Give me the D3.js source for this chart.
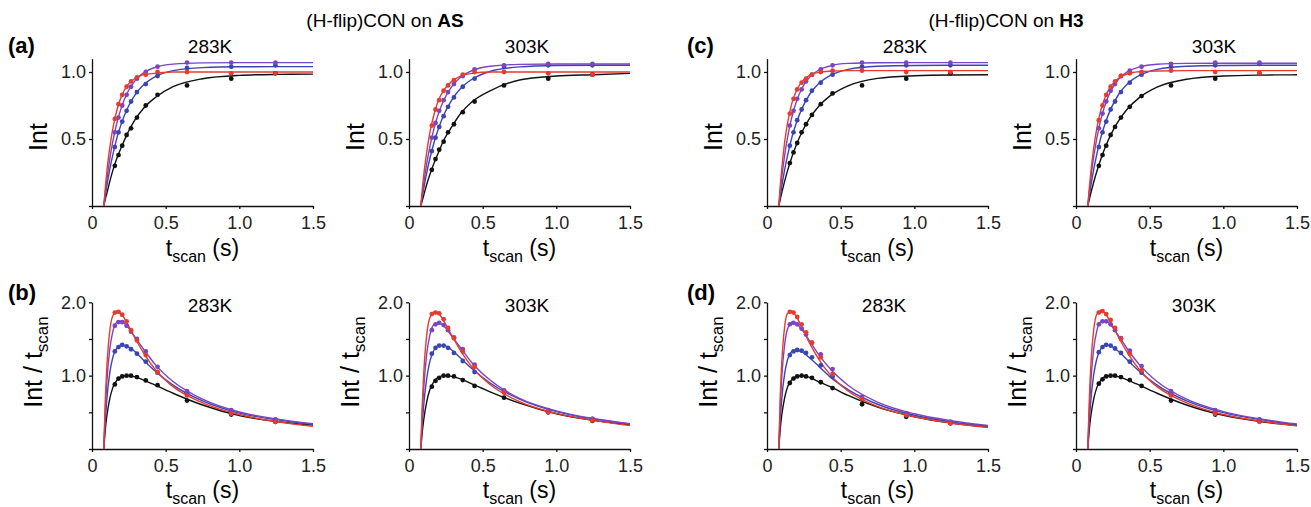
<!DOCTYPE html>
<html>
<head>
<meta charset="utf-8">
<script src="https://cdn.jsdelivr.net/npm/d3@7"></script>
<style>
  body { margin: 0; background: #fff; }
  svg { display: block; font-family: "Liberation Sans", Arial, Helvetica, sans-serif; }
</style>
</head>
<body>
<svg id="chart" width="1311" height="507"></svg>
<script>
// scan times of the measured points and of the sampled fit curves (s)
const tPts = [0.155, 0.18, 0.205, 0.235, 0.265, 0.305, 0.365, 0.445, 0.645, 0.945, 1.245];
const tFit = [0.08, 0.09, 0.10, 0.12, 0.14, 0.17, 0.20, 0.24, 0.29, 0.35, 0.43, 0.55, 0.75, 1.0, 1.25, 1.5];

// series order in every table: black, blue, purple, red
const seriesColors = ["#111111", "#3a45b3", "#7a45c2", "#e63b2e"];

const xTicks = [0, 0.5, 1.0, 1.5];
const xTickLabels = ["0", "0.5", "1.0", "1.5"];
const intTicks = [0, 0.5, 1.0];
const intTickLabels = ["", "0.5", "1.0"];
const ratioTicks = [0, 0.5, 1.0, 1.5, 2.0];
const ratioTickLabels = ["", "", "1.0", "", "2.0"];

const groupTitles = ["AS", "H3"];
const panelLetters = ["(a)", "(b)", "(c)", "(d)"];
const temps = ["283K", "303K"];

// (H-flip)CON on AS, 283K
const as283IntPts = [
  [0.30, 0.38, 0.45, 0.53, 0.58, 0.66, 0.75, 0.83, 0.90, 0.95, 0.99],
  [0.44, 0.55, 0.63, 0.71, 0.78, 0.85, 0.91, 0.97, 1.03, 1.04, 1.05],
  [0.55, 0.66, 0.75, 0.83, 0.89, 0.95, 1.00, 1.04, 1.07, 1.07, 1.07],
  [0.65, 0.76, 0.83, 0.89, 0.93, 0.96, 0.98, 1.00, 1.00, 0.99, 0.99]
];
const as283IntFit = [
  [0, 0.05, 0.09, 0.18, 0.26, 0.36, 0.44, 0.54, 0.64, 0.73, 0.81, 0.89, 0.95, 0.975, 0.982, 0.984],
  [0, 0.075, 0.145, 0.27, 0.376, 0.512, 0.617, 0.727, 0.826, 0.904, 0.965, 1.01, 1.033, 1.039, 1.04, 1.04],
  [0, 0.10, 0.19, 0.346, 0.474, 0.625, 0.738, 0.845, 0.932, 0.993, 1.035, 1.059, 1.068, 1.07, 1.07, 1.07],
  [0, 0.13, 0.25, 0.43, 0.57, 0.72, 0.82, 0.90, 0.95, 0.98, 0.99, 1.0, 1.0, 1.0, 1.0, 1.0]
];
const as283RatioPts = [
  [0.88, 0.96, 0.99, 1.0, 1.0, 0.98, 0.935, 0.87, 0.66, 0.47, 0.37],
  [1.33, 1.39, 1.42, 1.40, 1.36, 1.30, 1.19, 1.04, 0.76, 0.51, 0.40],
  [1.68, 1.73, 1.73, 1.68, 1.60, 1.50, 1.33, 1.12, 0.79, 0.53, 0.40],
  [1.86, 1.87, 1.83, 1.74, 1.62, 1.48, 1.28, 1.05, 0.73, 0.48, 0.37]
];
const as283RatioFit = [
  [0, 0.26, 0.44, 0.68, 0.83, 0.94, 0.99, 1.0, 0.985, 0.94, 0.87, 0.76, 0.60, 0.455, 0.375, 0.325],
  [0, 0.38, 0.66, 1.03, 1.24, 1.38, 1.42, 1.40, 1.33, 1.21, 1.06, 0.87, 0.655, 0.49, 0.40, 0.335],
  [0, 0.52, 0.89, 1.35, 1.59, 1.73, 1.74, 1.67, 1.53, 1.36, 1.15, 0.92, 0.68, 0.505, 0.41, 0.345],
  [0, 0.65, 1.09, 1.60, 1.81, 1.88, 1.84, 1.71, 1.52, 1.31, 1.08, 0.85, 0.63, 0.47, 0.375, 0.31]
];

// (H-flip)CON on AS, 303K
const as303IntPts = [
  [0.27, 0.35, 0.42, 0.48, 0.55, 0.61, 0.70, 0.78, 0.90, 0.95, 0.98],
  [0.41, 0.51, 0.59, 0.67, 0.74, 0.81, 0.89, 0.95, 1.04, 1.05, 1.05],
  [0.51, 0.62, 0.71, 0.79, 0.85, 0.91, 0.97, 1.02, 1.05, 1.06, 1.06],
  [0.60, 0.72, 0.79, 0.86, 0.90, 0.94, 0.98, 1.00, 1.00, 0.99, 0.98]
];
const as303IntFit = [
  [0, 0.04, 0.08, 0.16, 0.23, 0.32, 0.40, 0.50, 0.59, 0.69, 0.78, 0.86, 0.94, 0.97, 0.98, 0.99],
  [0, 0.068, 0.131, 0.246, 0.347, 0.474, 0.579, 0.689, 0.791, 0.877, 0.948, 1.004, 1.038, 1.048, 1.05, 1.05],
  [0, 0.089, 0.171, 0.314, 0.434, 0.579, 0.69, 0.798, 0.891, 0.961, 1.011, 1.043, 1.057, 1.06, 1.06, 1.06],
  [0, 0.12, 0.23, 0.40, 0.54, 0.685, 0.79, 0.87, 0.93, 0.97, 0.99, 1.0, 1.0, 1.0, 1.0, 1.0]
];
const as303RatioPts = [
  [0.85, 0.93, 0.97, 1.0, 1.0, 0.99, 0.94, 0.86, 0.70, 0.50, 0.385],
  [1.30, 1.38, 1.41, 1.41, 1.38, 1.31, 1.20, 1.05, 0.78, 0.52, 0.41],
  [1.62, 1.70, 1.72, 1.69, 1.62, 1.52, 1.36, 1.15, 0.80, 0.53, 0.41],
  [1.84, 1.86, 1.85, 1.77, 1.65, 1.51, 1.33, 1.12, 0.77, 0.50, 0.39]
];
const as303RatioFit = [
  [0, 0.23, 0.40, 0.64, 0.80, 0.92, 0.98, 1.0, 0.99, 0.955, 0.885, 0.78, 0.625, 0.48, 0.39, 0.33],
  [0, 0.34, 0.60, 0.96, 1.18, 1.35, 1.41, 1.41, 1.35, 1.24, 1.09, 0.90, 0.68, 0.51, 0.41, 0.34],
  [0, 0.48, 0.83, 1.29, 1.54, 1.70, 1.72, 1.67, 1.54, 1.38, 1.17, 0.94, 0.69, 0.52, 0.415, 0.345],
  [0, 0.60, 1.03, 1.55, 1.78, 1.87, 1.85, 1.73, 1.55, 1.34, 1.11, 0.88, 0.645, 0.485, 0.39, 0.32]
];

// (H-flip)CON on H3, 283K
const h3283IntPts = [
  [0.32, 0.40, 0.47, 0.55, 0.61, 0.68, 0.76, 0.84, 0.90, 0.95, 0.99],
  [0.45, 0.55, 0.64, 0.72, 0.79, 0.86, 0.92, 0.98, 1.04, 1.05, 1.05],
  [0.60, 0.71, 0.80, 0.87, 0.93, 0.98, 1.02, 1.05, 1.07, 1.07, 1.07],
  [0.69, 0.80, 0.87, 0.92, 0.95, 0.98, 1.00, 1.01, 1.01, 1.00, 1.00]
];
const h3283IntFit = [
  [0, 0.05, 0.098, 0.186, 0.266, 0.369, 0.459, 0.558, 0.656, 0.743, 0.824, 0.897, 0.952, 0.972, 0.978, 0.979],
  [0, 0.076, 0.146, 0.272, 0.38, 0.517, 0.623, 0.734, 0.834, 0.912, 0.974, 1.02, 1.043, 1.049, 1.05, 1.05],
  [0, 0.11, 0.21, 0.379, 0.515, 0.67, 0.781, 0.884, 0.963, 1.014, 1.046, 1.064, 1.069, 1.07, 1.07, 1.07],
  [0, 0.15, 0.277, 0.478, 0.623, 0.771, 0.862, 0.932, 0.975, 0.997, 1.006, 1.01, 1.01, 1.01, 1.01, 1.01]
];
const h3283RatioPts = [
  [0.90, 0.96, 0.99, 1.0, 0.99, 0.97, 0.91, 0.83, 0.61, 0.44, 0.35],
  [1.28, 1.33, 1.35, 1.34, 1.31, 1.25, 1.14, 0.99, 0.69, 0.48, 0.37],
  [1.70, 1.72, 1.70, 1.64, 1.56, 1.45, 1.29, 1.09, 0.71, 0.49, 0.37],
  [1.87, 1.86, 1.80, 1.70, 1.59, 1.45, 1.25, 1.02, 0.68, 0.46, 0.35]
];
const h3283RatioFit = [
  [0, 0.27, 0.46, 0.70, 0.85, 0.95, 0.99, 1.0, 0.975, 0.92, 0.85, 0.73, 0.57, 0.44, 0.355, 0.30],
  [0, 0.40, 0.68, 1.03, 1.22, 1.33, 1.35, 1.32, 1.24, 1.13, 0.98, 0.81, 0.61, 0.46, 0.37, 0.31],
  [0, 0.58, 0.97, 1.43, 1.64, 1.73, 1.71, 1.62, 1.47, 1.29, 1.09, 0.87, 0.64, 0.48, 0.385, 0.32],
  [0, 0.72, 1.17, 1.67, 1.85, 1.88, 1.80, 1.65, 1.44, 1.23, 1.01, 0.79, 0.58, 0.44, 0.355, 0.295]
];

// (H-flip)CON on H3, 303K
const h3303IntPts = [
  [0.30, 0.38, 0.45, 0.53, 0.59, 0.66, 0.74, 0.82, 0.90, 0.95, 0.99],
  [0.44, 0.55, 0.63, 0.72, 0.78, 0.85, 0.92, 0.98, 1.04, 1.05, 1.06],
  [0.58, 0.69, 0.78, 0.86, 0.91, 0.97, 1.01, 1.04, 1.06, 1.07, 1.07],
  [0.64, 0.75, 0.83, 0.89, 0.93, 0.97, 0.99, 1.00, 1.01, 1.00, 0.99]
];
const h3303IntFit = [
  [0, 0.048, 0.093, 0.177, 0.254, 0.355, 0.442, 0.54, 0.637, 0.726, 0.809, 0.887, 0.946, 0.97, 0.977, 0.979],
  [0, 0.076, 0.146, 0.272, 0.38, 0.517, 0.623, 0.734, 0.834, 0.912, 0.974, 1.02, 1.043, 1.049, 1.05, 1.05],
  [0, 0.107, 0.202, 0.366, 0.498, 0.652, 0.764, 0.867, 0.948, 1.003, 1.038, 1.058, 1.064, 1.065, 1.065, 1.065],
  [0, 0.131, 0.245, 0.431, 0.571, 0.72, 0.819, 0.9, 0.955, 0.987, 1.002, 1.008, 1.01, 1.01, 1.01, 1.01]
];
const h3303RatioPts = [
  [0.89, 0.95, 0.99, 1.0, 1.0, 0.98, 0.94, 0.86, 0.66, 0.47, 0.38],
  [1.32, 1.39, 1.42, 1.41, 1.37, 1.31, 1.19, 1.04, 0.76, 0.51, 0.40],
  [1.70, 1.74, 1.74, 1.70, 1.62, 1.51, 1.34, 1.13, 0.79, 0.53, 0.40],
  [1.86, 1.88, 1.84, 1.76, 1.65, 1.50, 1.30, 1.07, 0.73, 0.48, 0.37]
];
const h3303RatioFit = [
  [0, 0.26, 0.44, 0.68, 0.83, 0.94, 0.99, 1.0, 0.985, 0.94, 0.87, 0.76, 0.60, 0.46, 0.375, 0.32],
  [0, 0.37, 0.65, 1.01, 1.22, 1.37, 1.42, 1.40, 1.33, 1.21, 1.06, 0.87, 0.655, 0.495, 0.40, 0.33],
  [0, 0.52, 0.89, 1.36, 1.60, 1.74, 1.75, 1.68, 1.54, 1.36, 1.15, 0.92, 0.68, 0.51, 0.41, 0.34],
  [0, 0.66, 1.11, 1.62, 1.83, 1.89, 1.84, 1.71, 1.52, 1.31, 1.08, 0.85, 0.63, 0.47, 0.38, 0.315]
];

// layout
const colX = [92, 409, 767, 1076];
const plotW = 221;
const rows = [
  {base: 206, top: 58.6, domain: [0, 1.1], ticks: intTicks, labels: intTickLabels,
   xLabelY: 256, yLabelDx: -45, yLabelCy: 137, yLabel: "int", titleY: 53, letterY: 53},
  {base: 449, top: 302.3, domain: [0, 2.0], ticks: ratioTicks, labels: ratioTickLabels,
   xLabelY: 498, yLabelDx: -50, yLabelCy: 362, yLabel: "ratio", titleY: 312, letterY: 300}
];

const panels = [
  {col: 0, row: 0, temp: temps[0], pts: as283IntPts, fit: as283IntFit, titleDx: 118},
  {col: 1, row: 0, temp: temps[1], pts: as303IntPts, fit: as303IntFit, titleDx: 118},
  {col: 2, row: 0, temp: temps[0], pts: h3283IntPts, fit: h3283IntFit, titleDx: 138},
  {col: 3, row: 0, temp: temps[1], pts: h3303IntPts, fit: h3303IntFit, titleDx: 138},
  {col: 0, row: 1, temp: temps[0], pts: as283RatioPts, fit: as283RatioFit, titleDx: 118},
  {col: 1, row: 1, temp: temps[1], pts: as303RatioPts, fit: as303RatioFit, titleDx: 118},
  {col: 2, row: 1, temp: temps[0], pts: h3283RatioPts, fit: h3283RatioFit, titleDx: 117},
  {col: 3, row: 1, temp: temps[1], pts: h3303RatioPts, fit: h3303RatioFit, titleDx: 118}
];

const svg = d3.select("#chart");

// group titles
[{x: 385, i: 0}, {x: 1006, i: 1}].forEach(({x, i}) => {
  const t = svg.append("text")
    .attr("x", x).attr("y", 27)
    .attr("text-anchor", "middle")
    .attr("font-size", 19);
  t.append("tspan").text("(H-flip)CON on ");
  t.append("tspan").attr("font-weight", "bold").text(groupTitles[i]);
});

// panel letters
[{x: 8, row: 0}, {x: 8, row: 1}, {x: 687, row: 0}, {x: 687, row: 1}].forEach((d, i) => {
  svg.append("text")
    .attr("x", d.x).attr("y", rows[d.row].letterY)
    .attr("font-size", 22)
    .attr("font-weight", "bold")
    .text(panelLetters[i]);
});

const drawPanel = (p) => {
  const r = rows[p.row];
  const x0 = colX[p.col];
  const x = d3.scaleLinear().domain([0, 1.5]).range([x0, x0 + plotW]);
  const y = d3.scaleLinear().domain(r.domain).range([r.base, r.top]);

  const g = svg.append("g");

  const xAxis = d3.axisBottom(x)
    .tickValues(xTicks)
    .tickFormat((d, i) => xTickLabels[i])
    .tickSize(3).tickPadding(7).tickSizeOuter(0);
  const yAxis = d3.axisLeft(y)
    .tickValues(r.ticks)
    .tickFormat((d, i) => r.labels[i])
    .tickSize(3).tickPadding(3).tickSizeOuter(0);

  const gx = g.append("g").attr("transform", `translate(0, ${r.base})`).call(xAxis);
  const gy = g.append("g").attr("transform", `translate(${x0}, 0)`).call(yAxis);
  [gx, gy].forEach((a) => {
    a.attr("font-family", null).attr("font-size", 18);
    a.selectAll("path, line").attr("stroke", "#111").attr("stroke-width", 1.3);
    a.selectAll("text").attr("fill", "#222");
  });

  const line = d3.line()
    .x((d) => x(d[0]))
    .y((d) => y(d[1]))
    .curve(d3.curveMonotoneX);

  p.fit.forEach((vals, si) => {
    g.append("path")
      .datum(tFit.map((t, i) => [t, vals[i]]))
      .attr("fill", "none")
      .attr("stroke", seriesColors[si])
      .attr("stroke-width", 1.4)
      .attr("d", line);
  });
  p.pts.forEach((vals, si) => {
    g.selectAll(null)
      .data(tPts.map((t, i) => [t, vals[i]]))
      .enter()
      .append("circle")
      .attr("cx", (d) => x(d[0]))
      .attr("cy", (d) => y(d[1]))
      .attr("r", 2.4)
      .attr("fill", seriesColors[si]);
  });

  // temperature title
  g.append("text")
    .attr("x", x0 + p.titleDx).attr("y", r.titleY)
    .attr("text-anchor", "middle")
    .attr("font-size", 19)
    .text(p.temp);

  // x label
  const xl = g.append("text")
    .attr("x", x0 + plotW / 2).attr("y", r.xLabelY)
    .attr("text-anchor", "middle")
    .attr("font-size", 23);
  xl.append("tspan").text("t");
  xl.append("tspan").attr("font-size", 16).attr("dy", 6).text("scan");
  xl.append("tspan").attr("dy", -6).text(" (s)");

  // y label
  const yl = g.append("text")
    .attr("transform", `translate(${x0 + r.yLabelDx}, ${r.yLabelCy}) rotate(-90)`)
    .attr("text-anchor", "middle")
    .attr("font-size", 25);
  if (r.yLabel === "int") {
    yl.text("Int");
  } else {
    yl.append("tspan").text("Int / t");
    yl.append("tspan").attr("font-size", 17).attr("dy", 6).text("scan");
  }
};

panels.forEach(drawPanel);
</script>
</body>
</html>
